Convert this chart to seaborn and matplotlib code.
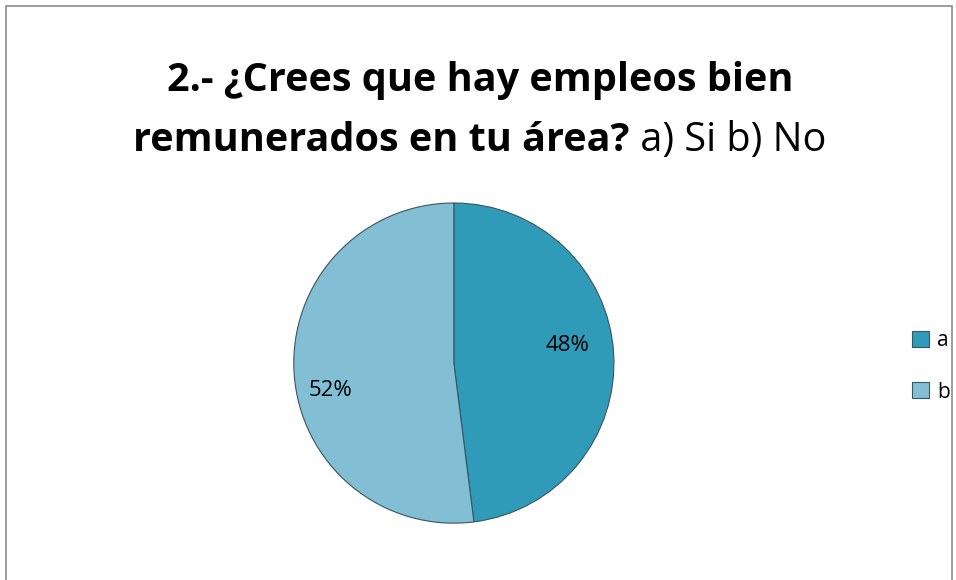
import matplotlib
matplotlib.use("Agg")
import matplotlib.pyplot as plt
import seaborn as sns
from matplotlib.patches import Rectangle

# --- DATA ---
categories = ["a", "b"]
values = [48, 52]
title_line1 = "2.- ¿Crees que hay empleos bien"
title_bold2 = "remunerados en tu área?"
title_plain2 = " a) Si b) No"

sns.set_style("white")
plt.rcParams["font.family"] = ["Open Sans", "DejaVu Sans"]
plt.rcParams["text.color"] = "black"
colors = sns.color_palette(["#2f9bb9", "#82bfd4"])

fig = plt.figure(figsize=(9.56, 5.80), dpi=100)
fig.patches.append(Rectangle((0.006, -0.01), 0.99, 1.0, transform=fig.transFigure,
                             fill=False, edgecolor="#8c8c8c", linewidth=1.2))

ax = fig.add_axes([0.261, 0.029, 0.4275, 0.69])
wedges, texts, autotexts = ax.pie(values, colors=colors, startangle=90, counterclock=False,
                                  autopct="%1.0f%%", pctdistance=0.74,
                                  wedgeprops=dict(edgecolor="#3a5560", linewidth=0.8),
                                  textprops=dict(fontsize=16, color="black"))
ax.set_aspect("equal")
# nudge the labels like the office chart does
autotexts[0].set_position((0.71, 0.11))
autotexts[1].set_position((-0.77, -0.17))

fig.legend(wedges, categories, loc="center left", bbox_to_anchor=(0.9455, 0.368),
           frameon=False, fontsize=15, handlelength=0.8, handleheight=0.8,
           handletextpad=0.4, labelspacing=1.45, borderpad=0.2, borderaxespad=0.2)

# title: first line bold, second line bold + plain
fs = 28.5
fig.text(0.502, 0.862, title_line1, ha="center", va="center", fontsize=fs,
         fontweight="bold", color="black")
fig.canvas.draw()
r = fig.canvas.get_renderer()
tb = fig.text(0, 0.757, title_bold2, ha="left", va="center", fontsize=fs,
              fontweight="bold", color="black")
tp = fig.text(0, 0.757, title_plain2, ha="left", va="center", fontsize=fs, color="black")
wb = tb.get_window_extent(r).width / fig.bbox.width
wp = tp.get_window_extent(r).width / fig.bbox.width
x0 = 0.502 - (wb + wp) / 2
tb.set_x(x0)
tp.set_x(x0 + wb)

fig.savefig("out.png", dpi=100)
